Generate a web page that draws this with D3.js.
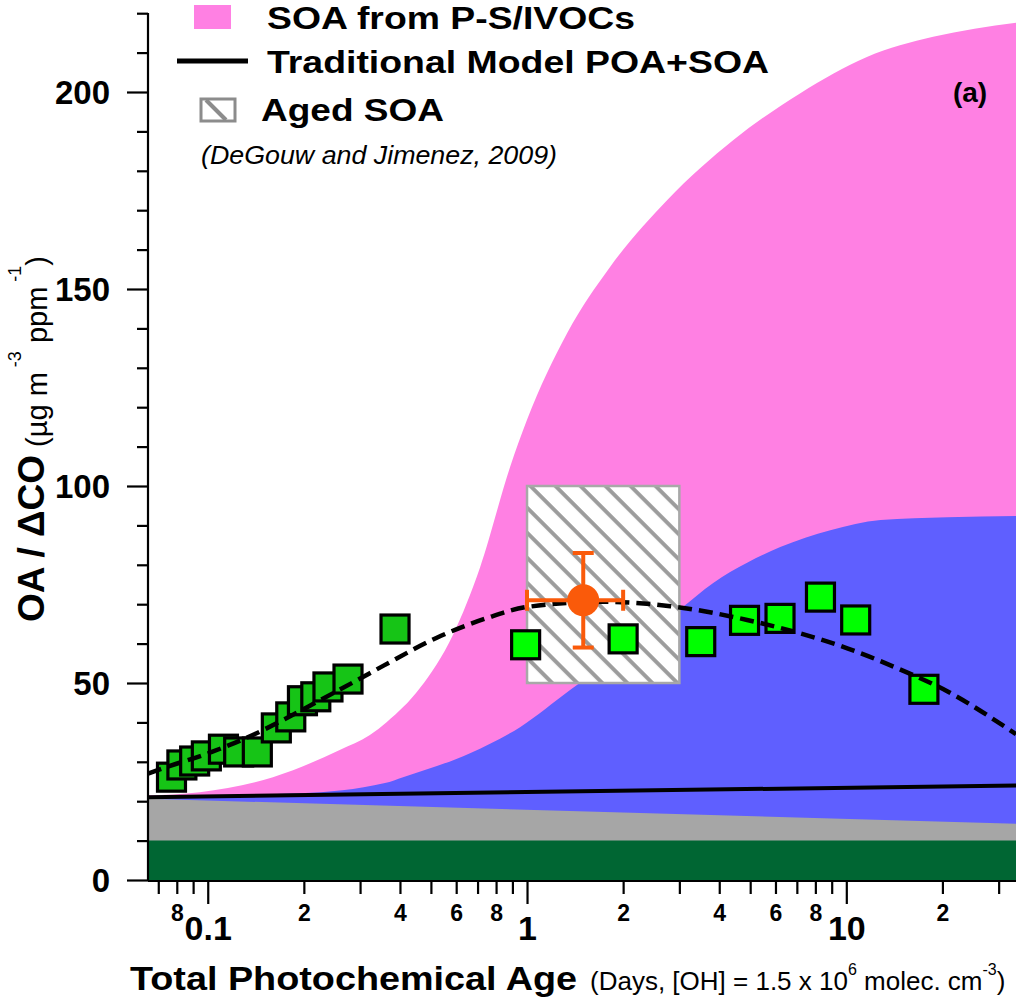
<!DOCTYPE html>
<html>
<head>
<meta charset="utf-8">
<script src="https://cdn.jsdelivr.net/npm/d3@7"></script>
<style>
  html, body { margin: 0; padding: 0; background: #ffffff; }
  svg { display: block; }
  text { font-family: "Liberation Sans", Arial, Helvetica, sans-serif; fill: #000; }
</style>
</head>
<body>
<script>
// ---- data (photochemical age in days, OA/ΔCO in µg m-3 ppm-1) ----
const poaAge = [0.065, 34];
const poaTop = [10, 10];

const graySoaAge = [0.065, 34];
const graySoaTop = [20.6, 14.3];

const blueAge = [0.065, 0.194, 0.359, 0.409, 0.663, 0.951, 1.364, 3.02, 3.83, 4.89, 6.21, 8.91, 12.8, 20.7, 34];
const blueTop = [21.3, 22.0, 24.6, 26.1, 32.2, 38.8, 48.2, 68.8, 75.4, 80.5, 84.5, 88.8, 91.4, 92.1, 92.4];

const pinkAge = [0.065, 0.0944, 0.16, 0.259, 0.322, 0.364, 0.462, 0.586, 0.713, 0.885, 1.0, 1.335, 1.82, 2.75, 4.43, 7.18, 11.6, 18.7, 34];
const pinkTop = [21.5, 22.3, 26.1, 33.0, 36.8, 40.1, 48.7, 62.2, 79.4, 104.8, 116.8, 138.8, 155.6, 172.6, 187.8, 199.7, 208.9, 214.0, 217.6];

const tradAge = [0.065, 34];
const tradVal = [21.0, 24.0];

const fitAge = [0.065, 0.0733, 0.103, 0.140, 0.174, 0.221, 0.295, 0.359, 0.522, 0.750, 1.0, 1.73, 2.81, 4.89, 7.02, 10.07, 14.4, 20.7, 34];
const fitVal = [27.0, 28.5, 32.5, 37.0, 40.8, 45.3, 50.8, 54.6, 61.5, 66.5, 69.3, 70.6, 69.5, 66.0, 62.8, 58.8, 53.8, 47.9, 37.0];

const earlyAge = [0.077, 0.083, 0.091, 0.099, 0.112, 0.125, 0.143, 0.164, 0.182, 0.198, 0.218, 0.238, 0.275, 0.386];
const earlyVal = [26.1, 29.2, 30.2, 31.5, 33.2, 32.5, 32.5, 38.6, 41.4, 45.5, 46.5, 49.0, 51.0, 63.7];

const lateAge = [0.99, 2.0, 3.5, 4.8, 6.2, 8.3, 10.7, 17.5];
const lateVal = [59.7, 61.2, 60.5, 65.9, 66.4, 71.8, 66.0, 48.4];

const agedBoxAge = [1, 3];
const agedBoxVal = [50, 100];

const agedPointAge = 1.5, agedPointVal = 71;
const agedPointAgeRange = [1, 2];
const agedPointValRange = [59, 83];

const xMajorTicks = [0.1, 1, 10];
const xMinorTicks = [0.07, 0.08, 0.09, 0.2, 0.3, 0.4, 0.5, 0.6, 0.7, 0.8, 0.9, 2, 3, 4, 5, 6, 7, 8, 9, 20, 30];
const xMinorLabelled = [0.08, 0.2, 0.4, 0.6, 0.8, 2, 4, 6, 8, 20];
const yMajorTicks = [0, 50, 100, 150, 200];
const yMinorTicks = d3.range(10, 221, 10).filter(v => v % 50 !== 0);

const zipPts = (a, v) => a.map((d, i) => ({ a: d, v: v[i] }));

// ---- layout ----
const W = 1019, H = 997;
const x = d3.scaleLog().domain([0.065, 34]).range([148, 1016]);
const y = d3.scaleLinear().domain([0, 220]).range([880, 13.2]);

const svg = d3.select("body").append("svg").attr("width", W).attr("height", H);
const defs = svg.append("defs");

defs.append("clipPath").attr("id", "plotClip")
  .append("rect").attr("x", 148).attr("y", 0).attr("width", 1016 - 148).attr("height", 881);

const hatch = defs.append("pattern").attr("id", "hatch")
  .attr("patternUnits", "userSpaceOnUse").attr("width", 17.7).attr("height", 17.7)
  .attr("patternTransform", "rotate(45)");
hatch.append("rect").attr("width", 17.7).attr("height", 17.7).attr("fill", "#ffffff");
hatch.append("line").attr("x1", 0).attr("x2", 17.7).attr("y1", 4).attr("y2", 4)
  .attr("stroke", "#9c9c9c").attr("stroke-width", 4);

const plot = svg.append("g").attr("clip-path", "url(#plotClip)");

const areaGen = d3.area().curve(d3.curveMonotoneX)
  .x(d => x(d.a)).y0(y(0)).y1(d => y(d.v));
const lineGen = d3.line().curve(d3.curveMonotoneX)
  .x(d => x(d.a)).y(d => y(d.v));

// stacked layers, tallest first
plot.append("path").datum(zipPts(pinkAge, pinkTop)).attr("d", areaGen).attr("fill", "#ff80e3");
plot.append("path").datum(zipPts(blueAge, blueTop)).attr("d", areaGen).attr("fill", "#5f5fff");
plot.append("path").datum(zipPts(graySoaAge, graySoaTop)).attr("d", areaGen).attr("fill", "#a6a6a6");
plot.append("path").datum(zipPts(poaAge, poaTop)).attr("d", areaGen).attr("fill", "#006633");

// aged SOA range box
plot.append("rect")
  .attr("x", x(agedBoxAge[0])).attr("y", y(agedBoxVal[1]))
  .attr("width", x(agedBoxAge[1]) - x(agedBoxAge[0]))
  .attr("height", y(agedBoxVal[0]) - y(agedBoxVal[1]))
  .attr("fill", "url(#hatch)").attr("stroke", "#a8a8a8").attr("stroke-width", 2.5);

// traditional model line
plot.append("path").datum(zipPts(tradAge, tradVal)).attr("d", lineGen)
  .attr("fill", "none").attr("stroke", "#000").attr("stroke-width", 4);

// observations
const sq = 28;
plot.append("g").selectAll("rect").data(zipPts(earlyAge, earlyVal)).join("rect")
  .attr("x", d => x(d.a) - sq / 2).attr("y", d => y(d.v) - sq / 2)
  .attr("width", sq).attr("height", sq)
  .attr("fill", "#16c416").attr("stroke", "#000").attr("stroke-width", 3.2);
plot.append("g").selectAll("rect").data(zipPts(lateAge, lateVal)).join("rect")
  .attr("x", d => x(d.a) - sq / 2).attr("y", d => y(d.v) - sq / 2)
  .attr("width", sq).attr("height", sq)
  .attr("fill", "#00ff00").attr("stroke", "#000").attr("stroke-width", 3.2);

// fitted trend
plot.append("path").datum(zipPts(fitAge, fitVal)).attr("d", lineGen)
  .attr("fill", "none").attr("stroke", "#000").attr("stroke-width", 4.5)
  .attr("stroke-dasharray", "14,7");

// aged point with error bars
const orange = "#fa5a0a";
const ep = svg.append("g").attr("stroke", orange).attr("stroke-width", 4);
const px = x(agedPointAge), py = y(agedPointVal), cap = 10.5;
ep.append("line").attr("x1", x(agedPointAgeRange[0])).attr("x2", x(agedPointAgeRange[1])).attr("y1", py).attr("y2", py);
ep.append("line").attr("x1", px).attr("x2", px).attr("y1", y(agedPointValRange[0])).attr("y2", y(agedPointValRange[1]));
ep.append("line").attr("x1", x(agedPointAgeRange[0])).attr("x2", x(agedPointAgeRange[0])).attr("y1", py - cap).attr("y2", py + cap);
ep.append("line").attr("x1", x(agedPointAgeRange[1])).attr("x2", x(agedPointAgeRange[1])).attr("y1", py - cap).attr("y2", py + cap);
ep.append("line").attr("x1", px - cap).attr("x2", px + cap).attr("y1", y(agedPointValRange[0])).attr("y2", y(agedPointValRange[0]));
ep.append("line").attr("x1", px - cap).attr("x2", px + cap).attr("y1", y(agedPointValRange[1])).attr("y2", y(agedPointValRange[1]));
svg.append("circle").attr("cx", px).attr("cy", py).attr("r", 16).attr("fill", orange);

// ---- axes ----
function styleAxis(g) {
  g.select(".domain").remove();
  g.selectAll(".tick line").attr("stroke", "#000").attr("stroke-width", 2.2);
}

// y axis
svg.append("line").attr("x1", 148).attr("x2", 148).attr("y1", 13).attr("y2", 881)
  .attr("stroke", "#000").attr("stroke-width", 2.2);
svg.append("g").attr("transform", "translate(148,0)")
  .call(d3.axisLeft(y).tickValues(yMinorTicks).tickSize(11).tickFormat(""))
  .call(styleAxis);
svg.append("g").attr("transform", "translate(148,0)")
  .call(d3.axisLeft(y).tickValues(yMajorTicks).tickSize(21).tickPadding(17).tickFormat(d3.format("d")))
  .call(styleAxis)
  .call(g => g.selectAll("text").attr("font-size", 33).attr("font-weight", "bold")
    .attr("font-family", "'Liberation Sans', Arial, sans-serif").attr("dy", "0.36em"));

// x axis
svg.append("line").attr("x1", 148).attr("x2", 1016).attr("y1", 881).attr("y2", 881)
  .attr("stroke", "#000").attr("stroke-width", 2);
svg.append("g").attr("transform", "translate(0,881)")
  .call(d3.axisBottom(x).tickValues(xMinorTicks).tickSize(13).tickPadding(11)
    .tickFormat(d => xMinorLabelled.includes(d) ? String(Math.round(d / Math.pow(10, Math.floor(Math.log10(d) + 1e-9)))) : ""))
  .call(styleAxis)
  .call(g => g.selectAll("text").attr("font-size", 23).attr("font-weight", "bold")
    .attr("font-family", "'Liberation Sans', Arial, sans-serif"));
svg.append("g").attr("transform", "translate(0,881)")
  .call(d3.axisBottom(x).tickValues(xMajorTicks).tickSize(23).tickPadding(12).tickFormat(d => String(d)))
  .call(styleAxis)
  .call(g => g.selectAll("text").attr("font-size", 34).attr("font-weight", "bold")
    .attr("font-family", "'Liberation Sans', Arial, sans-serif"));

// axis titles
const xt = svg.append("g");
xt.append("text").attr("x", 130).attr("y", 990)
  .attr("font-size", 33).attr("font-weight", "bold")
  .attr("textLength", 447).attr("lengthAdjust", "spacingAndGlyphs")
  .text("Total Photochemical Age");
const xs = xt.append("text").attr("x", 590).attr("y", 990).attr("font-size", 26);
xs.append("tspan").text("(Days, [OH] = 1.5 x 10");
xs.append("tspan").attr("font-size", 16).attr("dy", -15).text("6");
xs.append("tspan").attr("dy", 15).text(" molec. cm");
xs.append("tspan").attr("font-size", 16).attr("dy", -15).text("-3");
xs.append("tspan").attr("dy", 15).text(")");

const yt = svg.append("text").attr("transform", "translate(44,622) rotate(-90)");
yt.append("tspan").attr("font-size", 37).attr("font-weight", "bold").text("OA / ΔCO");
yt.append("tspan").attr("font-size", 29).attr("dy", 3).text(" (µg m");
yt.append("tspan").attr("font-size", 18).attr("dy", -26).text(" -3");
yt.append("tspan").attr("font-size", 29).attr("dy", 26).text("  ppm");
yt.append("tspan").attr("font-size", 18).attr("dy", -26).text(" -1");
yt.append("tspan").attr("font-size", 29).attr("dy", 26).text(")");

// ---- legend ----
const lg = svg.append("g");
lg.append("rect").attr("x", 194).attr("y", 5).attr("width", 37).attr("height", 24).attr("fill", "#ff80e3");
lg.append("text").attr("x", 267).attr("y", 29).attr("font-size", 32).attr("font-weight", "bold")
  .attr("textLength", 368).attr("lengthAdjust", "spacingAndGlyphs").text("SOA from P-S/IVOCs");
lg.append("line").attr("x1", 177).attr("x2", 248).attr("y1", 61).attr("y2", 61)
  .attr("stroke", "#000").attr("stroke-width", 5);
lg.append("text").attr("x", 267).attr("y", 73).attr("font-size", 32).attr("font-weight", "bold")
  .attr("textLength", 502).attr("lengthAdjust", "spacingAndGlyphs").text("Traditional Model POA+SOA");
const hs = lg.append("g");
hs.append("rect").attr("x", 201).attr("y", 99).attr("width", 34).attr("height", 22)
  .attr("fill", "#fff").attr("stroke", "#8c8c8c").attr("stroke-width", 3);
hs.append("line").attr("x1", 206).attr("y1", 100).attr("x2", 226).attr("y2", 120)
  .attr("stroke", "#8c8c8c").attr("stroke-width", 4);
lg.append("text").attr("x", 261).attr("y", 121).attr("font-size", 32).attr("font-weight", "bold")
  .attr("textLength", 183).attr("lengthAdjust", "spacingAndGlyphs").text("Aged SOA");
lg.append("text").attr("x", 201).attr("y", 164).attr("font-size", 25).attr("font-style", "italic")
  .attr("textLength", 356).attr("lengthAdjust", "spacingAndGlyphs").text("(DeGouw and Jimenez, 2009)");

svg.append("text").attr("x", 970).attr("y", 102).attr("text-anchor", "middle")
  .attr("font-size", 28).attr("font-weight", "bold").text("(a)");
</script>
</body>
</html>
